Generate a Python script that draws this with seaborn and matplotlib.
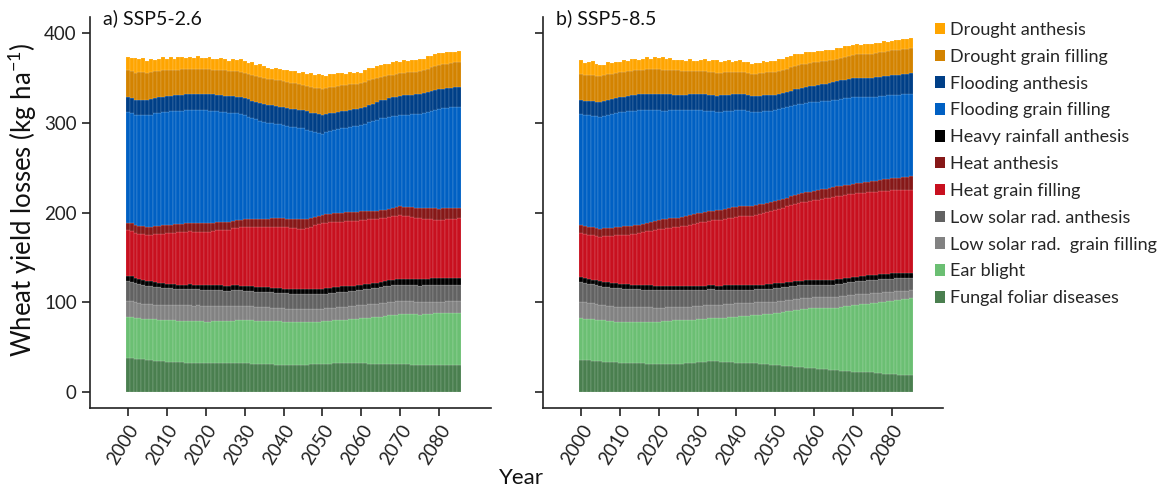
import numpy as np
import pandas as pd
import matplotlib
matplotlib.use("Agg")
import matplotlib.pyplot as plt
from matplotlib.patches import Patch
import seaborn as sns

# ---------------- data ----------------
years = list(range(2000, 2086))
tick_years = [2000, 2010, 2020, 2030, 2040, 2050, 2060, 2070, 2080]
categories = ["Drought anthesis", "Drought grain filling", "Flooding anthesis",
              "Flooding grain filling", "Heavy rainfall anthesis", "Heat anthesis",
              "Heat grain filling", "Low solar rad. anthesis", "Low solar rad.  grain filling",
              "Ear blight", "Fungal foliar diseases"]
colors = ["#FFA500", "#D38300", "#003F87", "#0060C3", "#000000", "#861818",
          "#C8101F", "#626262", "#828282", "#6BBF73", "#4A7F4F"]
# stacking order, top to bottom
stack_order = ["Drought anthesis", "Drought grain filling", "Flooding anthesis",
               "Flooding grain filling", "Heat anthesis", "Heat grain filling",
               "Heavy rainfall anthesis", "Low solar rad. anthesis",
               "Low solar rad.  grain filling", "Ear blight", "Fungal foliar diseases"]
panel_titles = ["a) SSP5-2.6", "b) SSP5-8.5"]

# SSP5-2.6 (kg/ha per year, 2000-2085)
fungal_26 = [37.6, 37.9, 37.2, 36.8, 36.3, 35.8, 35.5, 35.0, 34.6, 34.2, 33.9, 33.7, 33.4, 33.1, 32.9,
             32.8, 32.6, 32.4, 32.3, 32.1, 32.0, 31.9, 32.1, 32.2, 32.0, 32.0, 31.8, 32.1, 32.3, 32.1,
             32.0, 31.8, 31.6, 31.5, 31.4, 31.3, 31.0, 30.8, 30.6, 30.4, 30.2, 30.1, 30.0, 30.1, 30.2,
             30.2, 30.4, 30.7, 31.0, 31.2, 31.3, 31.5, 31.7, 31.9, 32.0, 32.0, 32.1, 32.2, 32.1, 32.0,
             32.0, 31.8, 31.6, 31.5, 31.4, 31.3, 31.3, 31.4, 31.3, 31.3, 31.3, 31.0, 30.8, 30.6, 30.4,
             30.2, 30.1, 30.2, 30.3, 30.2, 30.2, 30.1, 30.0, 30.1, 30.2, 30.2]
ear_26 = [46.4, 46.0, 45.6, 45.4, 45.5, 45.5, 45.7, 45.9, 46.0, 46.0, 46.0, 46.2, 46.4, 46.3, 46.5,
          46.5, 46.6, 46.4, 46.5, 46.5, 46.5, 46.6, 46.8, 46.9, 47.0, 47.0, 47.2, 47.5, 47.8, 47.9,
          48.0, 48.1, 48.2, 48.1, 48.2, 48.2, 48.3, 48.2, 48.2, 48.2, 48.2, 48.0, 47.9, 47.8, 47.7,
          47.6, 47.5, 47.4, 47.3, 47.3, 47.3, 47.5, 47.7, 47.9, 48.0, 48.2, 48.5, 48.9, 49.3, 49.6,
          50.0, 50.5, 51.0, 51.6, 52.2, 52.7, 53.3, 53.9, 54.5, 55.0, 55.5, 55.7, 55.8, 55.9, 56.0,
          56.0, 56.3, 56.7, 57.0, 57.3, 57.5, 57.6, 57.8, 57.9, 58.0, 58.0]
lsgf_26 = [17.5, 17.3, 17.0, 16.8, 16.6, 16.5, 16.4, 16.5, 16.4, 16.5, 16.5, 16.7, 16.9, 17.1, 17.3,
           17.5, 17.6, 17.5, 17.6, 17.5, 17.5, 17.3, 17.1, 16.9, 16.7, 16.5, 16.4, 16.3, 16.2, 16.1,
           16.0, 15.8, 15.6, 15.4, 15.2, 15.0, 15.0, 15.1, 15.0, 15.0, 15.0, 14.9, 14.8, 14.7, 14.6,
           14.5, 14.4, 14.3, 14.2, 14.1, 14.0, 14.1, 14.2, 14.3, 14.4, 14.5, 14.6, 14.7, 14.8, 14.9,
           15.0, 15.0, 15.1, 15.0, 15.0, 15.0, 15.0, 14.9, 15.0, 15.0, 15.0, 14.8, 14.6, 14.4, 14.2,
           14.0, 13.8, 13.6, 13.4, 13.2, 13.0, 13.0, 13.1, 13.0, 13.0, 13.0]
lsan_26 = [22.0, 21.8, 21.4, 21.1, 20.8, 20.5, 20.2, 19.8, 19.5, 19.2, 19.0, 18.8, 18.6, 18.4, 18.2,
           18.0, 18.1, 18.0, 17.9, 18.0, 18.0, 17.9, 17.8, 17.7, 17.6, 17.5, 17.4, 17.3, 17.2, 17.1,
           17.0, 17.0, 16.9, 16.9, 16.8, 16.8, 16.8, 16.9, 16.9, 17.0, 17.0, 16.9, 16.8, 16.8, 16.7,
           16.7, 16.7, 16.7, 16.7, 16.7, 16.7, 16.6, 16.6, 16.5, 16.5, 16.5, 16.6, 16.7, 16.8, 16.9,
           17.0, 17.2, 17.4, 17.6, 17.8, 18.0, 18.0, 18.0, 18.0, 18.0, 18.0, 18.1, 18.2, 18.3, 18.4,
           18.4, 18.5, 18.6, 18.8, 18.9, 19.0, 18.9, 18.8, 18.7, 18.6, 18.5]
rain_26 = [5.6, 5.8, 5.5, 5.7, 5.6, 5.6, 5.4, 5.7, 5.5, 5.4, 5.4, 5.2, 5.0, 4.9, 4.8,
           4.8, 5.0, 5.2, 5.3, 5.4, 5.4, 5.5, 5.3, 5.4, 5.5, 5.4, 5.3, 5.5, 5.4, 5.3,
           5.3, 5.4, 5.5, 5.6, 5.5, 5.6, 5.5, 5.3, 5.1, 5.0, 4.9, 5.0, 5.2, 5.3, 5.4,
           5.5, 5.6, 5.5, 5.6, 5.5, 5.5, 5.7, 5.9, 6.1, 6.3, 6.4, 6.2, 5.9, 5.6, 5.4,
           5.3, 5.4, 5.5, 5.6, 5.6, 5.6, 5.8, 6.1, 6.4, 6.5, 6.6, 6.8, 7.0, 7.2, 7.3,
           7.4, 7.3, 7.2, 7.1, 7.0, 7.0, 7.1, 7.0, 6.9, 7.0, 7.0]
heatgf_26 = [51.4, 51.0, 50.6, 50.8, 51.0, 51.1, 52.0, 53.1, 54.2, 55.1, 55.9, 56.6, 57.3, 58.0, 58.6,
             59.0, 59.2, 59.1, 59.2, 59.2, 59.2, 59.7, 60.4, 61.1, 61.6, 62.1, 62.8, 63.6, 64.4, 65.1,
             65.7, 66.0, 66.3, 66.6, 66.9, 67.1, 67.4, 67.8, 68.2, 68.5, 68.7, 68.5, 68.2, 67.9, 67.6,
             67.5, 68.4, 69.6, 70.9, 72.1, 73.2, 73.1, 72.9, 72.7, 72.5, 72.4, 72.3, 72.3, 72.2, 72.2,
             72.2, 72.0, 71.7, 71.3, 71.0, 70.8, 70.7, 70.7, 70.6, 70.6, 70.6, 70.0, 69.3, 68.6, 68.0,
             67.4, 66.9, 66.3, 65.8, 65.3, 64.8, 65.2, 65.7, 66.1, 66.4, 66.7]
heatan_26 = [8.2, 8.4, 8.6, 8.8, 8.9, 9.0, 9.1, 9.1, 9.2, 9.3, 9.3, 9.4, 9.4, 9.5, 9.5,
             9.5, 9.6, 9.7, 9.7, 9.8, 9.8, 9.6, 9.4, 9.2, 9.1, 9.0, 8.9, 8.8, 8.6, 8.5,
             8.5, 8.6, 8.8, 9.0, 9.1, 9.2, 9.3, 9.4, 9.4, 9.5, 9.5, 9.7, 9.9, 10.1, 10.3,
             10.5, 10.3, 10.1, 9.8, 9.6, 9.5, 9.6, 9.7, 9.8, 9.9, 10.0, 10.0, 9.9, 9.9, 9.8,
             9.8, 9.6, 9.4, 9.2, 9.1, 9.0, 9.2, 9.4, 9.6, 9.8, 10.0, 10.3, 10.6, 10.9, 11.2,
             11.5, 11.8, 12.1, 12.4, 12.7, 13.0, 12.8, 12.6, 12.4, 12.2, 12.0]
floodgf_26 = [123.6, 123.2, 122.8, 123.5, 124.1, 124.6, 125.0, 125.5, 125.9, 126.2, 126.3, 126.2, 126.1, 126.0, 125.9,
              125.9, 125.9, 125.8, 125.7, 125.6, 125.6, 125.0, 124.4, 123.7, 123.1, 122.5, 121.3, 120.0, 118.7, 117.4,
              116.1, 114.4, 112.7, 111.0, 109.4, 107.8, 107.0, 106.2, 105.5, 104.7, 104.0, 103.5, 103.0, 102.5, 102.0,
              101.5, 99.3, 97.0, 94.8, 92.6, 90.5, 91.2, 91.9, 92.6, 93.3, 94.0, 94.4, 94.9, 95.4, 95.8,
              96.2, 97.5, 98.8, 100.1, 101.3, 102.6, 102.4, 102.2, 102.0, 101.8, 101.6, 102.3, 103.0, 103.7, 104.4,
              105.1, 106.4, 107.7, 109.0, 110.3, 111.5, 111.7, 112.0, 112.2, 112.4, 112.6]
floodan_26 = [17.0, 16.8, 16.9, 17.1, 17.0, 17.0, 17.1, 17.2, 17.3, 17.4, 17.5, 17.6, 17.7, 17.8, 17.9,
              18.0, 18.1, 18.2, 18.3, 18.4, 18.5, 18.5, 18.5, 18.5, 18.5, 18.5, 18.6, 18.7, 18.8, 18.9,
              19.0, 19.1, 19.2, 19.3, 19.4, 19.5, 19.6, 19.7, 19.8, 19.9, 20.0, 20.0, 20.0, 20.0, 20.0,
              20.0, 20.1, 20.2, 20.3, 20.4, 20.5, 20.2, 19.9, 19.6, 19.3, 19.0, 19.0, 19.0, 19.0, 19.0,
              19.0, 19.2, 19.4, 19.6, 19.8, 20.0, 20.3, 20.6, 20.9, 21.2, 21.5, 21.6, 21.7, 21.8, 21.9,
              22.0, 21.9, 21.8, 21.7, 21.6, 21.5, 21.6, 21.7, 21.8, 21.9, 22.0]
drogf_26 = [30.0, 30.2, 30.4, 30.5, 30.6, 30.5, 30.2, 29.9, 29.5, 29.2, 29.0, 28.8, 28.6, 28.4, 28.2,
            28.0, 27.9, 27.8, 27.7, 27.6, 27.5, 27.6, 27.7, 27.8, 27.9, 28.0, 28.1, 28.2, 28.3, 28.4,
            28.5, 28.7, 28.9, 29.1, 29.3, 29.5, 29.5, 29.5, 29.5, 29.5, 29.5, 29.3, 29.1, 28.9, 28.7,
            28.5, 28.6, 28.7, 28.8, 28.9, 29.0, 29.0, 29.0, 29.0, 29.0, 29.0, 28.8, 28.6, 28.4, 28.2,
            28.0, 27.7, 27.4, 27.1, 26.8, 26.5, 26.2, 25.9, 25.6, 25.3, 25.0, 25.1, 25.2, 25.3, 25.4,
            25.5, 25.8, 26.1, 26.4, 26.7, 27.0, 27.2, 27.4, 27.6, 27.8, 28.0]
droan_26 = [14.7, 13.5, 15.8, 14.2, 16.0, 13.0, 14.8, 12.5, 13.6, 14.9, 12.6, 13.8, 12.2, 14.5, 13.1,
            11.8, 13.4, 12.0, 13.9, 12.7, 12.3, 13.6, 12.1, 11.5, 13.2, 12.4, 11.0, 13.5, 12.8, 14.0,
            13.0, 12.2, 13.8, 12.5, 14.2, 13.5, 12.0, 11.2, 12.6, 12.1, 12.0, 13.2, 12.5, 13.8, 12.9,
            14.0, 13.1, 15.2, 14.4, 15.6, 15.5, 14.2, 15.0, 13.6, 14.5, 13.8, 12.5, 13.4, 12.0, 12.8,
            11.5, 12.7, 13.5, 12.4, 13.8, 12.6, 13.9, 12.8, 13.5, 14.2, 13.0, 14.1, 12.7, 13.6, 12.9,
            13.2, 12.4, 13.8, 12.6, 13.1, 13.5, 12.2, 13.0, 12.4, 11.8, 12.0]

# SSP5-8.5
fungal_85 = [36.0, 35.8, 35.4, 35.0, 34.5, 34.0, 33.7, 33.4, 33.1, 32.9, 32.8, 32.6, 32.4, 32.2, 32.1,
             32.0, 31.8, 31.6, 31.5, 31.4, 31.3, 31.2, 31.2, 31.3, 31.3, 31.3, 31.5, 31.8, 32.2, 32.6,
             33.0, 33.4, 33.8, 34.1, 34.2, 34.0, 33.8, 33.5, 33.2, 33.0, 32.8, 32.6, 32.4, 32.2, 32.1,
             32.0, 31.7, 31.3, 30.9, 30.5, 30.2, 29.8, 29.4, 29.0, 28.6, 28.3, 28.0, 27.6, 27.2, 26.9,
             26.5, 26.1, 25.7, 25.3, 25.0, 24.6, 24.2, 23.9, 23.5, 23.2, 22.8, 22.6, 22.4, 22.1, 21.9,
             21.7, 21.3, 20.9, 20.5, 20.2, 19.8, 19.6, 19.4, 19.3, 19.1, 19.0]
ear_85 = [46.0, 45.8, 45.9, 46.1, 46.2, 46.2, 46.0, 45.9, 45.7, 45.6, 45.6, 45.7, 45.9, 46.1, 46.2,
          46.4, 46.5, 46.7, 46.8, 47.0, 47.1, 47.4, 47.8, 48.2, 48.6, 48.9, 48.7, 48.5, 48.3, 48.1,
          48.0, 48.0, 48.0, 48.0, 48.0, 48.0, 48.6, 49.3, 49.9, 50.6, 51.2, 51.7, 52.3, 52.8, 53.4,
          53.9, 54.6, 55.4, 56.1, 56.9, 57.6, 58.7, 59.8, 61.0, 62.1, 63.2, 63.9, 64.7, 65.4, 66.2,
          66.9, 67.3, 67.7, 68.0, 68.4, 68.8, 69.9, 71.0, 72.0, 73.1, 74.2, 74.8, 75.4, 76.1, 76.7,
          77.3, 78.2, 79.2, 80.1, 81.1, 82.0, 82.7, 83.4, 84.0, 84.7, 85.4]
lsgf_85 = [18.5, 18.3, 17.9, 17.6, 17.3, 17.0, 16.9, 16.8, 16.7, 16.6, 16.5, 16.5, 16.5, 16.5, 16.5,
           16.5, 16.3, 16.1, 15.9, 15.7, 15.5, 15.4, 15.3, 15.2, 15.1, 15.0, 14.9, 14.8, 14.7, 14.6,
           14.5, 14.6, 14.7, 14.8, 14.9, 15.0, 15.0, 15.0, 15.0, 15.0, 15.0, 14.8, 14.6, 14.4, 14.2,
           14.0, 13.8, 13.6, 13.4, 13.2, 13.0, 12.8, 12.6, 12.4, 12.2, 12.0, 12.0, 12.0, 12.0, 12.0,
           12.0, 12.1, 12.2, 12.3, 12.4, 12.5, 12.3, 12.1, 11.9, 11.7, 11.5, 11.4, 11.3, 11.2, 11.1,
           11.0, 10.8, 10.6, 10.4, 10.2, 10.0, 9.8, 9.6, 9.4, 9.2, 9.0]
lsan_85 = [22.0, 21.8, 21.6, 21.4, 21.2, 21.0, 20.9, 20.8, 20.7, 20.6, 20.5, 20.3, 20.1, 19.9, 19.7,
           19.5, 19.5, 19.5, 19.5, 19.5, 19.5, 19.3, 19.1, 18.9, 18.7, 18.5, 18.4, 18.3, 18.2, 18.1,
           18.0, 17.8, 17.6, 17.4, 17.2, 17.0, 16.5, 16.0, 15.5, 15.0, 14.5, 14.5, 14.5, 14.5, 14.5,
           14.5, 14.6, 14.6, 14.7, 14.7, 14.8, 14.8, 14.9, 14.9, 15.0, 15.0, 14.8, 14.5, 14.3, 14.0,
           13.8, 13.7, 13.7, 13.6, 13.6, 13.5, 13.7, 13.9, 14.1, 14.3, 14.5, 14.6, 14.6, 14.7, 14.7,
           14.8, 14.8, 14.7, 14.7, 14.6, 14.6, 14.4, 14.2, 14.0, 13.9, 13.8]
rain_85 = [5.5, 5.7, 5.4, 5.2, 5.1, 5.0, 5.2, 5.4, 5.3, 5.4, 5.4, 5.2, 5.0, 4.8, 4.6,
           4.5, 4.7, 4.9, 5.0, 5.0, 5.0, 4.8, 4.6, 4.5, 4.4, 4.4, 4.5, 4.6, 4.5, 4.5,
           4.5, 4.6, 4.5, 4.5, 4.6, 4.5, 4.7, 4.9, 5.2, 5.4, 5.4, 5.6, 5.9, 5.3, 4.6,
           4.3, 4.6, 4.9, 5.2, 5.3, 5.4, 5.3, 5.2, 5.1, 5.0, 5.0, 5.2, 5.4, 5.6, 5.7,
           5.8, 5.8, 5.7, 5.7, 5.6, 5.6, 5.4, 5.2, 5.0, 4.9, 4.8, 5.0, 5.2, 5.4, 5.5,
           5.6, 5.6, 5.7, 5.7, 5.7, 5.7, 5.8, 5.7, 5.7, 5.8, 5.7]
heatgf_85 = [48.7, 48.5, 48.9, 49.3, 49.6, 49.8, 50.7, 51.6, 52.5, 53.4, 54.2, 54.9, 55.6, 56.4, 57.1,
             57.8, 59.0, 60.2, 61.3, 62.5, 63.6, 64.1, 64.5, 65.0, 65.4, 65.9, 66.7, 67.5, 68.4, 69.2,
             70.0, 70.6, 71.2, 71.8, 72.4, 73.0, 73.6, 74.2, 74.9, 75.5, 76.1, 76.5, 77.0, 77.4, 77.9,
             78.3, 79.0, 79.6, 80.3, 80.9, 81.6, 82.6, 83.6, 84.5, 85.5, 86.5, 86.9, 87.4, 87.8, 88.3,
             88.7, 89.5, 90.2, 91.0, 91.7, 92.5, 92.6, 92.8, 92.9, 93.1, 93.2, 93.1, 93.0, 92.8, 92.7,
             92.6, 92.7, 92.7, 92.8, 92.8, 92.9, 92.7, 92.5, 92.4, 92.2, 92.1]
heatan_85 = [9.3, 9.2, 9.3, 9.2, 9.2, 9.2, 9.2, 9.3, 9.3, 9.3, 9.3, 9.3, 9.4, 9.4, 9.5,
             9.5, 9.6, 9.7, 9.8, 9.9, 10.0, 10.1, 10.2, 10.3, 10.4, 10.5, 10.6, 10.7, 10.8, 10.9,
             11.0, 11.0, 11.0, 11.0, 11.0, 11.0, 11.0, 11.1, 11.1, 11.2, 11.2, 11.2, 11.1, 11.1, 11.0,
             11.0, 10.8, 10.6, 10.4, 10.2, 10.0, 9.9, 9.8, 9.7, 9.6, 9.5, 9.7, 9.9, 10.1, 10.3,
             10.5, 10.6, 10.7, 10.8, 10.9, 11.0, 11.0, 11.0, 11.0, 11.0, 11.0, 11.2, 11.4, 11.6, 11.8,
             12.0, 12.3, 12.6, 12.9, 13.2, 13.5, 13.9, 14.3, 14.7, 15.1, 15.5]
floodgf_85 = [124.0, 123.6, 123.9, 124.1, 124.3, 124.5, 125.1, 125.8, 126.4, 127.1, 127.7, 127.7, 127.8, 127.8, 127.8,
              127.8, 126.6, 125.5, 124.3, 123.2, 122.0, 121.5, 121.0, 120.5, 120.0, 119.5, 118.6, 117.7, 116.8, 115.9,
              115.0, 113.9, 112.8, 111.7, 110.6, 109.5, 109.2, 108.8, 108.5, 108.1, 107.8, 107.0, 106.3, 105.5, 104.8,
              104.0, 103.5, 103.0, 102.4, 101.9, 101.4, 101.2, 101.0, 100.7, 100.5, 100.3, 100.1, 99.9, 99.7, 99.5,
              99.3, 98.7, 98.2, 97.6, 97.1, 96.5, 96.6, 96.7, 96.8, 96.9, 97.0, 96.4, 95.8, 95.2, 94.6,
              94.0, 93.7, 93.4, 93.1, 92.8, 92.5, 92.4, 92.3, 92.2, 92.2, 92.1]
floodan_85 = [15.5, 15.6, 15.8, 16.0, 16.3, 16.5, 16.6, 16.7, 16.8, 16.9, 17.0, 17.2, 17.4, 17.6, 17.8,
              18.0, 18.1, 18.2, 18.3, 18.4, 18.5, 18.3, 18.1, 17.9, 17.7, 17.5, 17.6, 17.7, 17.8, 17.9,
              18.0, 18.1, 18.2, 18.3, 18.4, 18.5, 18.4, 18.3, 18.2, 18.1, 18.0, 18.0, 18.0, 18.0, 18.0,
              18.0, 17.9, 17.8, 17.7, 17.6, 17.5, 17.5, 17.5, 17.5, 17.5, 17.5, 17.6, 17.7, 17.8, 17.9,
              18.0, 18.5, 19.0, 19.5, 20.0, 20.5, 20.6, 20.7, 20.8, 20.9, 21.0, 21.1, 21.2, 21.3, 21.4,
              21.5, 21.6, 21.7, 21.8, 21.9, 22.0, 22.1, 22.2, 22.3, 22.4, 22.5]
drogf_85 = [29.5, 29.6, 29.4, 29.3, 29.1, 29.0, 28.8, 28.6, 28.4, 28.2, 28.0, 27.8, 27.6, 27.4, 27.2,
            27.0, 27.1, 27.2, 27.3, 27.4, 27.5, 27.4, 27.3, 27.2, 27.1, 27.0, 26.7, 26.4, 26.1, 25.8,
            25.5, 25.5, 25.5, 25.5, 25.5, 25.5, 25.3, 25.1, 24.9, 24.7, 24.5, 24.5, 24.5, 24.5, 24.5,
            24.5, 24.7, 24.9, 25.1, 25.3, 25.5, 25.6, 25.7, 25.8, 25.9, 26.0, 26.0, 26.0, 26.0, 26.0,
            26.0, 25.8, 25.6, 25.4, 25.2, 25.0, 25.2, 25.4, 25.6, 25.8, 26.0, 26.1, 26.2, 26.3, 26.4,
            26.5, 26.8, 27.1, 27.4, 27.7, 28.0, 28.0, 28.0, 28.0, 28.0, 28.0]
droan_85 = [15.0, 12.5, 14.8, 16.2, 13.0, 12.8, 11.0, 13.4, 12.1, 11.5, 10.5, 12.6, 11.4, 13.0, 12.2,
            11.0, 12.5, 13.4, 11.8, 12.9, 12.0, 13.5, 11.6, 12.8, 11.2, 11.2, 12.4, 10.8, 13.1, 11.9,
            11.0, 12.7, 13.5, 11.6, 12.9, 13.7, 11.8, 12.4, 13.2, 11.4, 12.0, 13.3, 11.5, 12.6, 11.1,
            12.0, 11.2, 12.8, 11.6, 12.3, 11.6, 12.9, 12.0, 13.4, 12.5, 13.3, 12.1, 11.6, 12.8, 11.9,
            11.5, 12.4, 10.9, 11.8, 11.2, 10.5, 11.6, 10.8, 11.9, 10.6, 10.6, 11.3, 10.2, 11.5, 10.9,
            10.8, 11.2, 10.4, 11.6, 10.5, 10.0, 11.3, 10.6, 11.8, 10.4, 11.5]

series_26 = [droan_26, drogf_26, floodan_26, floodgf_26, rain_26, heatan_26,
             heatgf_26, lsan_26, lsgf_26, ear_26, fungal_26]
series_85 = [droan_85, drogf_85, floodan_85, floodgf_85, rain_85, heatan_85,
             heatgf_85, lsan_85, lsgf_85, ear_85, fungal_85]


def long_frame(series):
    rows = []
    for cat, vals in zip(categories, series):
        for y, v in zip(years, vals):
            rows.append((y, cat, v))
    return pd.DataFrame(rows, columns=["Year", "Category", "Loss"])


# ---------------- plot ----------------
sns.set_style("ticks")
plt.rcParams["font.family"] = ["Lato", "DejaVu Sans"]

fig = plt.figure(figsize=(11.61, 4.87), dpi=100)
ax1 = fig.add_axes([0.0775, 0.162, 0.3455, 0.803])
ax2 = fig.add_axes([0.468, 0.162, 0.3445, 0.803])
palette = dict(zip(categories, colors))

for ax, series, title in zip([ax1, ax2], [series_26, series_85], panel_titles):
    df = long_frame(series)
    sns.histplot(data=df, x="Year", weights="Loss", hue="Category",
                 hue_order=stack_order, palette=palette, multiple="stack",
                 discrete=True, shrink=1.0, alpha=1.0, linewidth=0.3,
                 edgecolor=(1, 1, 1, 0.35), legend=False, ax=ax)
    ax.set_xlim(1990.3, 2093.3)
    ax.set_ylim(-18, 418)
    ax.set_xticks(tick_years)
    ax.set_xticklabels([str(t) for t in tick_years], rotation=58, ha="right",
                       rotation_mode="anchor", fontsize=13)
    ax.set_yticks([0, 100, 200, 300, 400])
    ax.tick_params(axis="both", length=6, width=1.2, color="#222222",
                   labelsize=13.5, labelcolor="#222222")
    ax.tick_params(axis="x", pad=4)
    ax.set_xlabel("")
    ax.set_ylabel("")
    for s in ["left", "bottom"]:
        ax.spines[s].set_linewidth(1.2)
        ax.spines[s].set_color("#222222")
    sns.despine(ax=ax)
    ax.text(0.032, 0.997, title, transform=ax.transAxes, fontsize=14,
            va="center", ha="left", color="#111111")

ax1.set_ylabel("Wheat yield losses (kg ha$^{\\mathregular{-1}}$)", fontsize=18.5,
               color="#111111")
ax1.yaxis.set_label_coords(-0.128, 0.532)
ax2.set_yticklabels([])
fig.text(0.449, 0.018, "Year", fontsize=16, ha="center", va="center", color="#111111")

handles = [Patch(facecolor=c, edgecolor="none") for c in colors]
fig.legend(handles, categories, loc="upper left", bbox_to_anchor=(0.805, 0.955),
           frameon=False, fontsize=13, handlelength=0.6, handleheight=0.6,
           handletextpad=0.25, labelspacing=0.6, borderpad=0, borderaxespad=0)

fig.savefig("out.png", dpi=100)
